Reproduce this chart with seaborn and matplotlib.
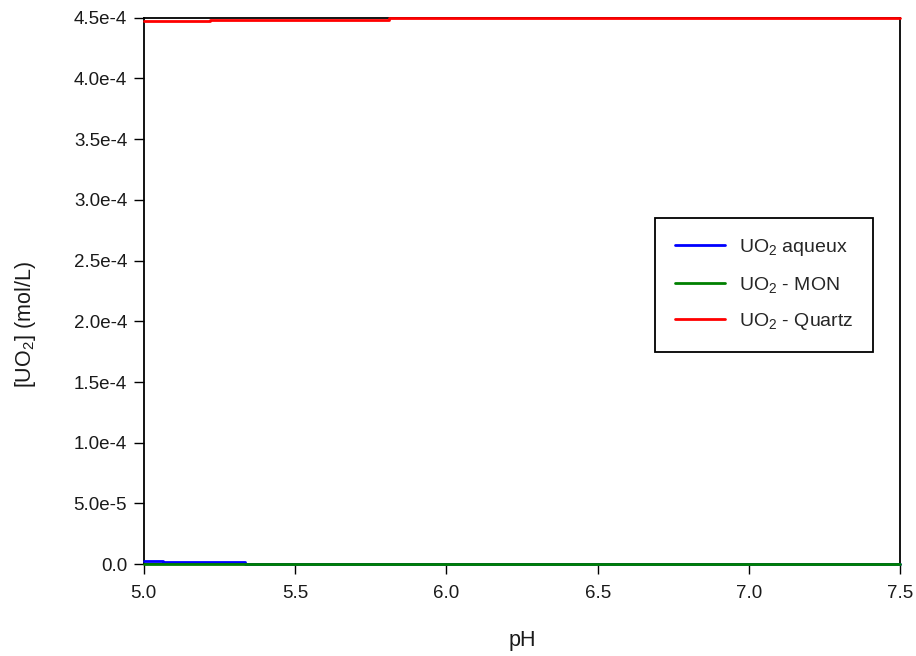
import matplotlib
matplotlib.use('Agg')
import matplotlib.pyplot as plt
import pandas as pd
import seaborn as sns

# pH values and UO2 concentrations (mol/L)
ph = [5.0, 5.063, 5.22, 5.334, 5.81, 6.0, 6.5, 7.0, 7.5]
uo2_aqueux = [3.0e-6, 1.8e-6, 1.8e-6, 0.0, 0.0, 0.0, 0.0, 0.0, 0.0]
uo2_mon = [0.0, 0.0, 0.0, 0.0, 0.0, 0.0, 0.0, 0.0, 0.0]
uo2_quartz = [4.47e-4, 4.47e-4, 4.485e-4, 4.485e-4, 4.5e-4, 4.5e-4, 4.5e-4, 4.5e-4, 4.5e-4]

y_ticks = [0.0, 5.0e-5, 1.0e-4, 1.5e-4, 2.0e-4, 2.5e-4, 3.0e-4, 3.5e-4, 4.0e-4, 4.5e-4]
y_ticklabels = ['0.0', '5.0e-5', '1.0e-4', '1.5e-4', '2.0e-4', '2.5e-4',
                '3.0e-4', '3.5e-4', '4.0e-4', '4.5e-4']
x_ticks = [5.0, 5.5, 6.0, 6.5, 7.0, 7.5]

labels = ['UO$_2$ aqueux', 'UO$_2$ - MON', 'UO$_2$ - Quartz']
colors = ['#0000ff', '#008000', '#ff0000']

df = pd.DataFrame({
    'pH': ph * 3,
    'value': uo2_aqueux + uo2_mon + uo2_quartz,
    'serie': [labels[0]] * len(ph) + [labels[1]] * len(ph) + [labels[2]] * len(ph),
})

sns.set_style('white')
plt.rcParams['font.family'] = ['Liberation Sans', 'DejaVu Sans']
plt.rcParams['mathtext.default'] = 'regular'

fig, ax = plt.subplots(figsize=(9.16, 6.56), dpi=100)
fig.subplots_adjust(left=0.157, right=0.983, top=0.973, bottom=0.14)

sns.lineplot(data=df, x='pH', y='value', hue='serie', palette=colors,
             hue_order=labels, drawstyle='steps-post', linewidth=2, ax=ax)
# lines sit on top of the frame, like in the original
for line in ax.get_lines():
    line.set_zorder(3)
    line.set_clip_on(False)

ax.set_xlim(5.0, 7.5)
ax.set_ylim(0.0, 4.5e-4)
ax.set_xticks(x_ticks)
ax.set_xticklabels(['%.1f' % v for v in x_ticks])
ax.set_yticks(y_ticks)
ax.set_yticklabels(y_ticklabels)
ax.tick_params(axis='both', direction='out', length=7, width=1, labelsize=13.5,
               color='black', labelcolor='#1a1a1a', bottom=True, left=True)
ax.tick_params(axis='x', pad=8)
ax.tick_params(axis='y', pad=5)

for s in ax.spines.values():
    s.set_color('black')
    s.set_linewidth(1.3)

ax.set_xlabel('pH', fontsize=15.5, labelpad=20, color='#1a1a1a')
ax.set_ylabel('[UO$_2$] (mol/L)', fontsize=15.5, color='#1a1a1a')
ax.yaxis.set_label_coords(-0.14, 0.438)

leg = ax.legend(loc='upper left', bbox_to_anchor=(0.676, 0.634), fontsize=14,
                frameon=True, fancybox=False, handlelength=2.6, borderpad=1.0,
                labelspacing=0.85, handletextpad=0.7, borderaxespad=0)
leg.get_frame().set_edgecolor('black')
leg.get_frame().set_linewidth(1.3)
leg.get_frame().set_alpha(1)

fig.savefig('out.png', dpi=100)
